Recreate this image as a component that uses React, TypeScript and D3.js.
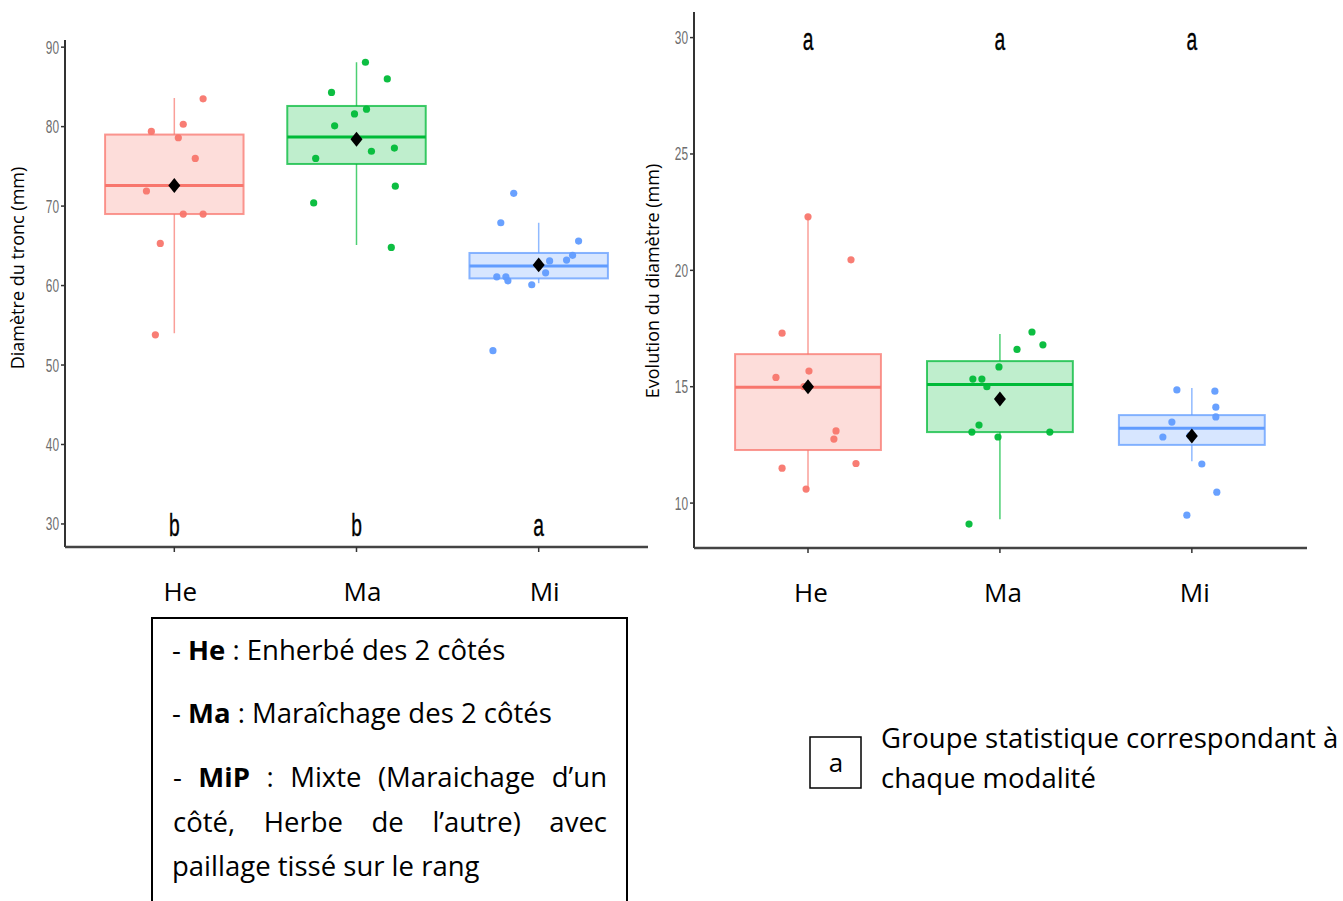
import React, { useLayoutEffect, useRef, useState } from "react";
import * as d3 from "d3";

const categories = ["He", "Ma", "Mi"];
const colors = ["#F8766D", "#00BA38", "#619CFF"];

// Left panel: trunk diameter (mm). Points as [jitter (category units), value]
const heDiam: [number, number][] = [[-0.126, 79.4], [0.049, 80.3], [0.022, 78.6], [0.158, 83.5], [0.115, 76.0], [-0.153, 71.9], [0.049, 69.0], [0.158, 69.0], [-0.077, 65.3], [-0.104, 53.8]];
const maDiam: [number, number][] = [[0.049, 88.1], [0.169, 86.0], [-0.137, 84.3], [0.055, 82.2], [-0.011, 81.6], [-0.12, 80.1], [0.082, 76.9], [0.208, 77.3], [-0.224, 76.0], [0.213, 72.5], [-0.235, 70.4], [0.191, 64.8]];
const miDiam: [number, number][] = [[-0.137, 71.6], [-0.208, 67.9], [0.219, 65.6], [0.186, 63.8], [0.153, 63.2], [0.06, 63.1], [0.038, 61.6], [-0.23, 61.1], [-0.18, 61.1], [-0.169, 60.6], [-0.038, 60.1], [-0.251, 51.8]];
// box stats: [whiskerLo, q1, median, q3, whiskerHi, mean]
const diamStats = [[54.0, 69.0, 72.6, 79.0, 83.6, 72.6], [65.1, 75.3, 78.7, 82.6, 88.1, 78.4], [60.3, 60.9, 62.45, 64.1, 67.9, 62.6]];
const diamTicks = [30, 40, 50, 60, 70, 80, 90];
const diamLetters = ["b", "b", "a"];

// Right panel: diameter evolution (mm)
const heEvol: [number, number][] = [[0, 22.3], [0.224, 20.45], [-0.135, 17.3], [0.005, 15.67], [-0.167, 15.4], [-0.021, 15.0], [0.146, 13.1], [0.135, 12.75], [0.25, 11.7], [-0.135, 11.5], [-0.01, 10.6]];
const maEvol: [number, number][] = [[0.167, 17.35], [0.224, 16.8], [0.089, 16.6], [-0.005, 15.85], [-0.141, 15.33], [-0.094, 15.33], [-0.068, 15.0], [-0.109, 13.35], [-0.146, 13.05], [-0.01, 12.84], [0.26, 13.05], [-0.161, 9.1]];
const miEvol: [number, number][] = [[-0.078, 14.86], [0.12, 14.81], [0.125, 14.12], [0.125, 13.7], [-0.104, 13.48], [-0.151, 12.84], [-0.01, 12.9], [0.052, 11.68], [0.13, 10.47], [-0.026, 9.48]];
const evolStats = [[10.6, 12.28, 14.98, 16.4, 22.3, 15.0], [9.3, 13.05, 15.1, 16.1, 17.26, 14.47], [11.8, 12.5, 13.22, 13.78, 14.94, 12.88]];
const evolTicks = [10, 15, 20, 25, 30];
const evolLetters = ["a", "a", "a"];

// Legend text
const legendLine1 = ["He", " : Enherbé des 2 côtés"];
const legendLine2 = ["Ma", " : Maraîchage des 2 côtés"];
const legendJust1: [string, boolean][] = [["-", false], ["MiP", true], [":", false], ["Mixte", false], ["(Maraichage", false], ["d’un", false]];
const legendJust2: [string, boolean][] = [["côté,", false], ["Herbe", false], ["de", false], ["l’autre)", false], ["avec", false]];
const legendLine5 = "paillage tissé sur le rang";
const groupLegend = ["Groupe statistique correspondant à", "chaque modalité"];

const TICK_FONT = "'Liberation Sans', Arial, sans-serif";
const TEXT_FONT = "'Open Sans', Lato, sans-serif";
const LEGEND_SIZE = 27.5;

type PanelProps = {
  x: d3.ScaleLinear<number, number>;
  y: d3.ScaleLinear<number, number>;
  points: [number, number][][];
  stats: number[][];
  ticks: number[];
  letters: string[];
  letterValue: number;
  title: string;
  titleX: number;
  titleY: number;
  labelDx: number;
};

function Panel({ x, y, points, stats, ticks, letters, letterValue, title, titleX, titleY, labelDx }: PanelProps) {
  const [x0, x1] = x.range();
  const [yb, yt] = y.range();
  const boxW = 0.76;
  const diamond = d3.symbol(d3.symbolSquare, 64)()!;
  return (
    <g>
      {stats.map((s, i) => {
        const cx = x(i);
        const left = x(i - boxW / 2);
        const right = x(i + boxW / 2);
        const c = colors[i];
        return (
          <g key={"b" + i}>
            <line x1={cx} x2={cx} y1={y(s[4])} y2={y(s[3])} stroke={c} strokeOpacity={0.7} strokeWidth={1.5} />
            <line x1={cx} x2={cx} y1={y(s[1])} y2={y(s[0])} stroke={c} strokeOpacity={0.7} strokeWidth={1.5} />
            <rect x={left} y={y(s[3])} width={right - left} height={y(s[1]) - y(s[3])} fill={c} fillOpacity={0.25} stroke={c} strokeOpacity={0.75} strokeWidth={2} />
          </g>
        );
      })}
      {points.map((pts, i) =>
        pts.map((p, j) => <circle key={"p" + i + "-" + j} cx={x(i + p[0])} cy={y(p[1])} r={3.6} fill={colors[i]} fillOpacity={0.95} />)
      )}
      {stats.map((s, i) => (
        <g key={"m" + i}>
          <line x1={x(i - boxW / 2)} x2={x(i + boxW / 2)} y1={y(s[2])} y2={y(s[2])} stroke={colors[i]} strokeWidth={3} />
          <path d={diamond} transform={`translate(${x(i)},${y(s[5])}) scale(1.06,1.32) rotate(45)`} fill="#000" />
        </g>
      ))}
      {letters.map((l, i) => (
        <text key={"l" + i} transform={`translate(${x(i)},${y(letterValue) + 12}) scale(0.62,1)`} textAnchor="middle" fontFamily={TICK_FONT} fontSize={31} fill="#000" stroke="#000" strokeWidth={0.4}>{l}</text>
      ))}
      <line x1={x0} x2={x0} y1={yt} y2={yb} stroke="#333" strokeWidth={2} />
      <line x1={x0} x2={x1} y1={yb} y2={yb} stroke="#444" strokeWidth={2.5} />
      {ticks.map((t) => (
        <g key={"t" + t}>
          <line x1={x0 - 4} x2={x0} y1={y(t)} y2={y(t)} stroke="#333" strokeWidth={1.5} />
          <text transform={`translate(${x0 - 6},${y(t) + 6.5}) scale(0.66,1)`} textAnchor="end" fontFamily={TICK_FONT} fontSize={18} fill="#6e6e6e">{t}</text>
        </g>
      ))}
      {categories.map((c, i) => (
        <g key={"c" + i}>
          <line x1={x(i)} x2={x(i)} y1={yb} y2={yb + 5} stroke="#333" strokeWidth={1.5} />
          <text x={x(i) + labelDx} y={yb + 54} textAnchor="middle" fontFamily={TEXT_FONT} fontSize={26} fill="#000">{c}</text>
        </g>
      ))}
      <text transform={`translate(${titleX},${titleY}) rotate(-90)`} textAnchor="middle" fontFamily={TEXT_FONT} fontSize={18} fill="#000">{title}</text>
    </g>
  );
}

function JustifiedLine({ words, left, right, y }: { words: [string, boolean][]; left: number; right: number; y: number }) {
  const refs = useRef<(SVGTextElement | null)[]>([]);
  const [xs, setXs] = useState<number[]>(() => words.map((_, i) => left + (i * (right - left)) / words.length));
  useLayoutEffect(() => {
    const widths = refs.current.map((el) => (el ? el.getComputedTextLength() : 0));
    const total = widths.reduce((a, b) => a + b, 0);
    const gap = (right - left - total) / (words.length - 1);
    let cur = left;
    const out: number[] = [];
    widths.forEach((w) => {
      out.push(cur);
      cur += w + gap;
    });
    setXs(out);
  }, [words, left, right]);
  return (
    <g>
      {words.map(([w, b], i) => (
        <text key={i} ref={(el) => { refs.current[i] = el; }} x={xs[i]} y={y} fontFamily={TEXT_FONT} fontSize={LEGEND_SIZE} fontWeight={b ? "bold" : "normal"} fill="#000">{w}</text>
      ))}
    </g>
  );
}

export default function App() {
  const xL = d3.scaleLinear().domain([-0.6, 2.6]).range([65, 648]);
  const yL = d3.scaleLinear().domain([27.1, 90.9]).range([547, 40]);
  const xR = d3.scaleLinear().domain([-0.594, 2.6]).range([694, 1307]);
  const yR = d3.scaleLinear().domain([8.07, 31.1]).range([548, 12]);

  const legendFont = { fontFamily: TEXT_FONT, fontSize: LEGEND_SIZE, fill: "#000" } as const;

  return (
    <svg width={1343} height={901} style={{ position: "absolute", left: 0, top: 0, background: "#fff" }}>
      <rect width={1343} height={901} fill="#fff" />
      <Panel x={xL} y={yL} points={[heDiam, maDiam, miDiam]} stats={diamStats} ticks={diamTicks} letters={diamLetters} letterValue={30} title="Diamètre du tronc (mm)" titleX={24} titleY={268} labelDx={6} />
      <Panel x={xR} y={yR} points={[heEvol, maEvol, miEvol]} stats={evolStats} ticks={evolTicks} letters={evolLetters} letterValue={30} title="Evolution du diamètre (mm)" titleX={659} titleY={281} labelDx={3} />

      {/* Legend box */}
      <rect x={152} y={618} width={475} height={300} fill="none" stroke="#000" strokeWidth={2} />
      <text x={172} y={660} {...legendFont}>- <tspan fontWeight="bold">{legendLine1[0]}</tspan>{legendLine1[1]}</text>
      <text x={172} y={723} {...legendFont}>- <tspan fontWeight="bold">{legendLine2[0]}</tspan>{legendLine2[1]}</text>
      <JustifiedLine words={legendJust1} left={173} right={607} y={787} />
      <JustifiedLine words={legendJust2} left={173} right={607} y={832} />
      <text x={172} y={876} {...legendFont}>{legendLine5}</text>

      {/* Statistical group legend */}
      <rect x={810} y={737} width={51} height={51} fill="none" stroke="#000" strokeWidth={1.5} />
      <text x={836} y={772} textAnchor="middle" fontFamily={TEXT_FONT} fontSize={26}>a</text>
      <text x={881} y={748} {...legendFont}>{groupLegend[0]}</text>
      <text x={881} y={788} {...legendFont}>{groupLegend[1]}</text>
    </svg>
  );
}
